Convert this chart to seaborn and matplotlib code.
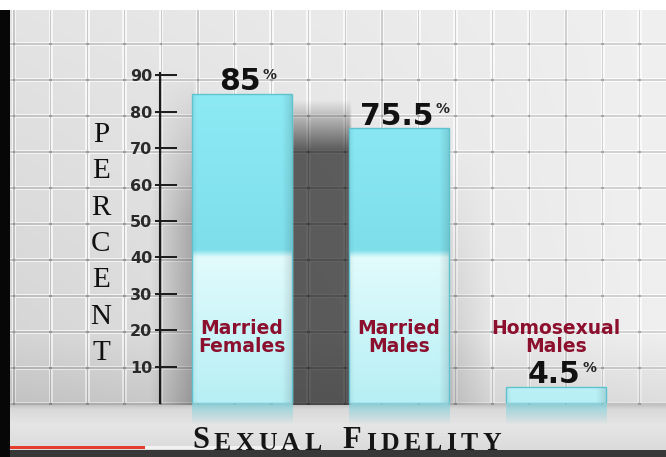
import numpy as np
import pandas as pd
import matplotlib
matplotlib.use("Agg")
import matplotlib.pyplot as plt
import seaborn as sns
from matplotlib.colors import to_rgb

# Valores
grupos = ["Married Females", "Married Males", "Homosexual Males"]
rotulos = ["Married\nFemales", "Married\nMales", "Homosexual\nMales"]
percentuais = [85, 75.5, 4.5]
textos_valor = ["85", "75.5", "4.5"]
ticks_y = [10, 20, 30, 40, 50, 60, 70, 80, 90]
titulo = "SEXUAL FIDELITY"
rotulo_eixo = "PERCENT"

W, H = 666, 457


def imagem_fundo():
    """Parede de azulejos, chao e bordas do video"""
    yy, xx = np.mgrid[0:H, 0:W] + 0.5
    v = 0.895 + 0.045 * xx / W - 0.07 * np.clip(yy / 405, 0, 1) * (1 - xx / W)

    # grade dos azulejos
    dx = np.abs((xx - 14 + 18.4) % 36.8 - 18.4)
    dy = np.abs((yy - 8 + 18) % 36 - 18)
    d = np.minimum(dx, dy)
    brilho = (d >= 0.6) & (d < 2.2)
    v = np.where(brilho, v + (1 - v) * 0.7, v)
    v = np.where(d < 0.6, v * 0.88, v)
    v = np.where((dx < 1.3) & (dy < 1.3), v * 0.8, v)

    # sombras das barras na parede
    sombra = np.ones_like(v)
    hx = np.clip((xx - 291) / 3, 0, 1) * np.clip((352 - xx) / 3, 0, 1)
    vy = np.clip((yy - 100) / 50, 0, 1)
    sombra *= 1 - 0.6 * hx * vy
    hx = np.clip((xx - 150) / 42, 0, 1) * (xx < 194)
    vy = np.clip((yy - 70) / 150, 0, 1)
    sombra *= 1 - 0.25 * hx * vy
    hx = np.clip((495 - xx) / 45, 0, 1) * (xx > 448)
    vy = np.clip((yy - 150) / 200, 0, 1)
    sombra *= 1 - 0.12 * hx * vy
    sombra *= 1 - 0.08 * np.clip((yy - 330) / 75, 0, 1)
    v = v * sombra

    # chao
    chao = np.interp(yy, [405, 409, 425, 449], [0.76, 0.85, 0.90, 0.86])
    v = np.where(yy >= 405, chao, v)
    v = np.where(yy >= 450, 0.22, v)
    v = np.where(yy < 10, 1.0, v)
    v = np.where((xx < 10) & (yy >= 10), 0.03, v)

    rgb = np.stack([v, v, v], axis=-1)
    faixa = (yy >= 446.5) & (yy < 449.5)
    rgb[faixa & (xx >= 10) & (xx < 145)] = to_rgb("#e53b2f")
    rgb[faixa & (xx >= 145) & (xx < 300)] = (0.95, 0.95, 0.95)
    return np.clip(rgb, 0, 1)


def cor_barra(vals):
    """Cor da barra em funcao da altura (parte de baixo clara)"""
    c0, c1 = np.array(to_rgb("#b6eff5")), np.array(to_rgb("#e2fbfc"))
    c2, c3 = np.array(to_rgb("#7edfeb")), np.array(to_rgb("#8eebf6"))
    out = np.zeros((len(vals), 3))
    for k, y in enumerate(vals):
        if y <= 40:
            t = y / 40
            out[k] = c0 + (c1 - c0) * t
        elif y <= 42:
            t = (y - 40) / 2
            out[k] = c1 + (c2 - c1) * t
        else:
            t = min((y - 42) / 48, 1)
            out[k] = c2 + (c3 - c2) * t
    return out


fig = plt.figure(figsize=(W / 100, H / 100), dpi=100)

fundo = fig.add_axes([0, 0, 1, 1])
fundo.imshow(imagem_fundo(), extent=[0, W, H, 0], aspect="auto", interpolation="bilinear")
fundo.set_xlim(0, W)
fundo.set_ylim(H, 0)
fundo.axis("off")

# titulo em versaletes
fonte_titulo = dict(family="Liberation Serif", fontweight="bold", color="#151515")
t = fundo.text(192, 448, titulo[0], ha="left", va="baseline", fontsize=22, **fonte_titulo)
anterior = t
extra = 0
for ch in titulo[1:]:
    if ch == " ":
        extra = 12
        continue
    tam = 22 if ch == "F" else 18.5
    anterior = fundo.annotate(ch, xy=(1, 0), xycoords=anterior, xytext=(3.2 + extra, 0),
                              textcoords="offset points", ha="left", va="bottom",
                              fontsize=tam, **fonte_titulo)
    extra = 0

# eixo com os dados
px_por_unidade = 3.64
ax = fig.add_axes([160 / W, 54 / H, 506 / W, 393 / H])
ax.set_facecolor("none")

df = pd.DataFrame({"grupo": grupos, "percentual": percentuais})
sns.barplot(data=df, x="grupo", y="percentual", ax=ax, color="#8eebf6",
            width=0.64, saturation=1, edgecolor="#5fc3cf", linewidth=1.0)

sombra_x = np.linspace(0, 1, 60)
fator_x = 1 - 0.12 * np.clip((sombra_x - 0.9) / 0.1, 0, 1) - 0.05 * np.clip((0.05 - sombra_x) / 0.05, 0, 1)
for p in ax.patches:
    x0, w, h = p.get_x(), p.get_width(), p.get_height()
    alturas = np.linspace(0, h, 300)
    img = cor_barra(alturas)[::-1][:, None, :] * fator_x[None, :, None]
    im = ax.imshow(img, extent=[x0, x0 + w, 0, h], aspect="auto", zorder=2,
                   interpolation="bilinear")
    im.set_clip_path(p)
    p.set_facecolor("none")
    p.set_zorder(3)
    # reflexo no chao
    refl = np.zeros((30, 2, 4))
    refl[..., :3] = to_rgb("#7fd6e0")
    refl[..., 3] = np.linspace(0.75, 0.0, 30)[:, None]
    r = ax.imshow(refl, extent=[x0, x0 + w, -6, 0], aspect="auto", zorder=1.5,
                  interpolation="bilinear")
    r.set_clip_on(False)

ax.set_xlim(-(242 - 160) / 157, (666 - 242) / 157)
ax.set_ylim(0, 393 / px_por_unidade)

for i, (v, txt) in enumerate(zip(percentuais, textos_valor)):
    num = ax.annotate(txt, xy=(i, v), xytext=(-1.5, 2.5), textcoords="offset points",
                      ha="center", va="baseline", fontsize=21.5, fontweight="bold",
                      color="#111111", zorder=5)
    ax.annotate("%", xy=(1, 1), xycoords=num, xytext=(1.5, -0.5), textcoords="offset points",
                ha="left", va="top", fontsize=10, fontweight="bold", color="#222222", zorder=5)
    ax.text(i, 18, rotulos[i], ha="center", va="center", fontsize=13.5, fontweight="bold",
            color="#8c0f2e", linespacing=0.95, zorder=5)

# eixo y desenhado como no video
for lado in ["top", "right", "bottom"]:
    ax.spines[lado].set_visible(False)
ax.spines["left"].set_color("#1a1a1a")
ax.spines["left"].set_linewidth(1.5)
ax.spines["left"].set_bounds(0, 90.6)
ax.set_xticks([])
ax.set_xlabel("")
ax.set_yticks(ticks_y)
ax.set_yticklabels([str(t) for t in ticks_y], fontweight="bold", fontsize=11.5, color="#2a2a2a")
ax.yaxis.remove_overlapping_locs = False
ax.set_yticks(ticks_y, minor=True)
ax.tick_params(axis="y", which="major", direction="in", length=12.5, width=1.4,
               color="#1a1a1a", pad=5.5)
ax.tick_params(axis="y", which="minor", direction="out", length=3.5, width=1.4, color="#1a1a1a")

ax.set_ylabel("\n".join(rotulo_eixo), rotation=0, fontsize=21, family="Liberation Serif",
              color="#111111", linespacing=1.52, ha="center", va="center")
ax.yaxis.set_label_coords(-(160 - 101) / 506, (403 - 244) / 393)

fig.savefig("out.png", dpi=100)
